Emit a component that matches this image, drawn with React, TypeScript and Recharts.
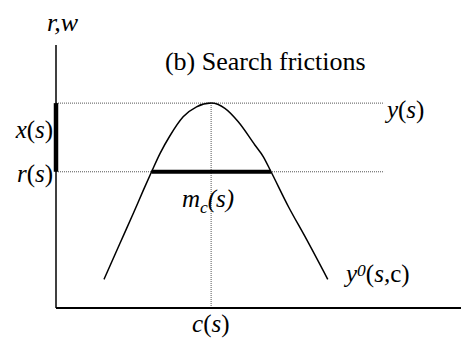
import React from 'react';
import { LineChart, Line, XAxis, YAxis, ReferenceLine, ReferenceDot, Label } from 'recharts';

// y0(s,c) curve (arbitrary 0-100 units on both axes)
const curveX = [11.85, 15.8, 19.1, 21.6, 23.6, 25.7, 28.1, 31.4, 34.7, 38.3, 41.7, 45.0, 49.1, 51.2, 53.1, 57.4, 61.5, 67.1];
const curveY = [10.9, 24.6, 36.0, 44.9, 51.8, 58.8, 65.4, 72.7, 76.5, 77.9, 75.9, 70.8, 62.0, 57.5, 51.8, 38.5, 27.1, 10.9];

const peakY = 77.9; // y(s)
const reservY = 51.8; // r(s)
const centreX = 38.3; // c(s)
const matchFrom = 23.6;
const matchTo = 53.1;
const guideEnd = 81;

const data = curveX.map((x, i) => ({ x, y: curveY[i] }));

const serif = 'Liberation Serif';

type Piece = { t: string; it?: boolean; sub?: boolean; sup?: boolean };

const textLabel = (pieces: Piece[], size: number, anchor: 'start' | 'end' = 'start') => (props: any) => {
  const vb = props.viewBox || {};
  let shift = 0;
  return (
    <text x={vb.x} y={vb.y} fontFamily={serif} fontSize={size} textAnchor={anchor} fill="#000">
      {pieces.map((p, i) => {
        const target = p.sub ? 6 : p.sup ? -6 : 0;
        const dy = target - shift;
        shift = target;
        return (
          <tspan
            key={i}
            dy={dy}
            fontStyle={p.it ? 'italic' : 'normal'}
            fontSize={p.sub || p.sup ? size * 0.7 : size}
          >
            {p.t}
          </tspan>
        );
      })}
    </text>
  );
};

const labels: { x: number; y: number; size: number; anchor?: 'start' | 'end'; pieces: Piece[] }[] = [
  { x: -2.2, y: 105.3, size: 26, pieces: [{ t: 'r,w', it: true }] },
  { x: 26.9, y: 90.5, size: 26, pieces: [{ t: '(b) Search frictions' }] },
  { x: -0.7, y: 64.6, size: 25, anchor: 'end', pieces: [{ t: 'x', it: true }, { t: '(' }, { t: 's', it: true }, { t: ')' }] },
  { x: -0.7, y: 47.9, size: 25, anchor: 'end', pieces: [{ t: 'r', it: true }, { t: '(' }, { t: 's', it: true }, { t: ')' }] },
  { x: 81.7, y: 72.2, size: 25, pieces: [{ t: 'y', it: true }, { t: '(' }, { t: 's', it: true }, { t: ')' }] },
  { x: 31.1, y: 38.4, size: 25, pieces: [{ t: 'm', it: true }, { t: 'c', it: true, sub: true }, { t: '(s)', it: true }] },
  { x: 71.6, y: 9.9, size: 25, pieces: [{ t: 'y', it: true }, { t: '0', it: true, sup: true }, { t: '(' }, { t: 's,', it: true }, { t: 'c)' }] },
  { x: 33.6, y: -9.1, size: 25, pieces: [{ t: 'c', it: true }, { t: '(' }, { t: 's', it: true }, { t: ')' }] },
];

const App = () => {
  return (
    <div style={{ position: 'absolute', left: 0, top: 0, width: 461, height: 349, background: '#fff' }}>
      <LineChart width={461} height={349} data={data} margin={{ top: 45, right: 0, bottom: 0, left: 0 }}>
        <XAxis
          type="number"
          dataKey="x"
          domain={[0, 100]}
          allowDataOverflow
          height={41}
          tick={false}
          tickLine={false}
          axisLine={{ stroke: '#000', strokeWidth: 2 }}
        />
        <YAxis
          type="number"
          domain={[0, 100]}
          allowDataOverflow
          width={56}
          tick={false}
          tickLine={false}
          axisLine={{ stroke: '#000', strokeWidth: 1.5 }}
        />
        <ReferenceLine segment={[{ x: 0, y: peakY }, { x: guideEnd, y: peakY }]} stroke="#555" strokeDasharray="1 1" />
        <ReferenceLine segment={[{ x: 0, y: reservY }, { x: guideEnd, y: reservY }]} stroke="#555" strokeDasharray="1 1" />
        <ReferenceLine segment={[{ x: centreX, y: 0 }, { x: centreX, y: peakY }]} stroke="#555" strokeDasharray="1 1" />
        <ReferenceLine segment={[{ x: 0, y: reservY }, { x: 0, y: peakY }]} stroke="#000" strokeWidth={4.5} />
        <ReferenceLine segment={[{ x: matchFrom, y: reservY }, { x: matchTo, y: reservY }]} stroke="#000" strokeWidth={4} />
        <Line
          type="monotone"
          dataKey="y"
          stroke="#000"
          strokeWidth={1.5}
          dot={false}
          activeDot={false}
          isAnimationActive={false}
        />
        {labels.map((l, i) => (
          <ReferenceDot key={i} x={l.x} y={l.y} r={0} fill="none" stroke="none" ifOverflow="visible">
            <Label content={textLabel(l.pieces, l.size, l.anchor)} />
          </ReferenceDot>
        ))}
      </LineChart>
    </div>
  );
};

export default App;
